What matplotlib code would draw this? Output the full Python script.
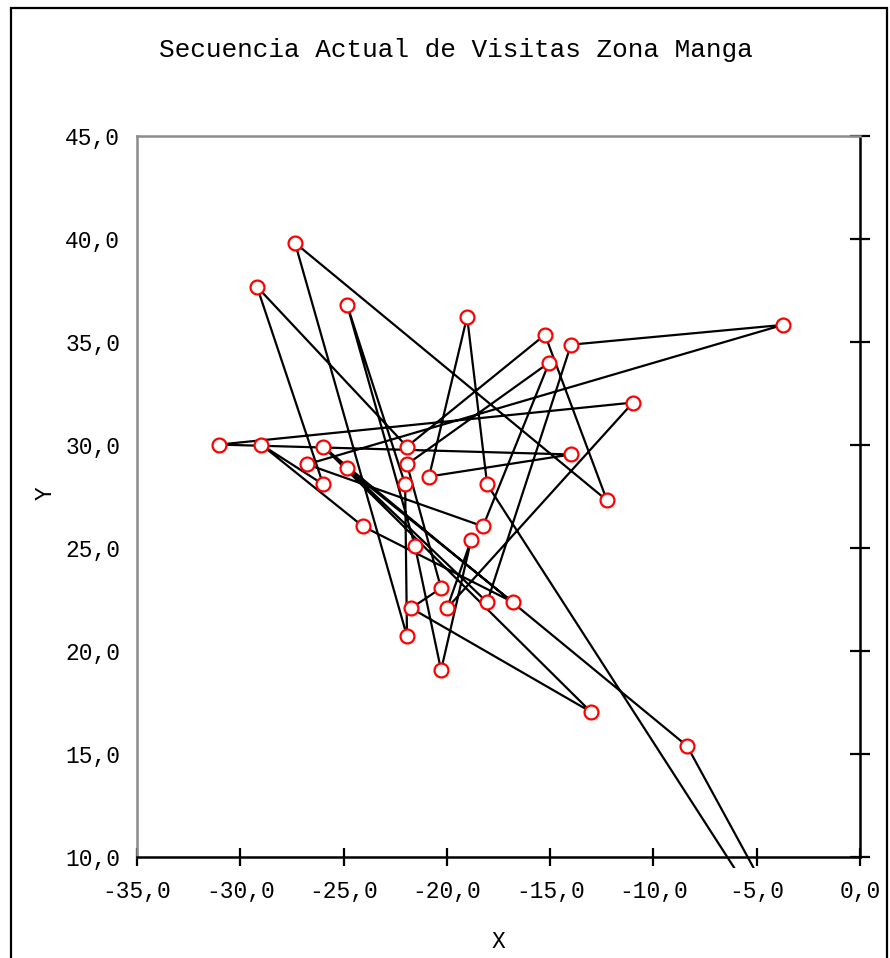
import matplotlib
matplotlib.use("Agg")
import matplotlib.pyplot as plt
from matplotlib.patches import Rectangle
from matplotlib.ticker import FuncFormatter

# Visiting sequence (depot at origin, start and end)
route_x = [0.0, -18.05, -19.02, -20.86, -13.99, -31.03, -10.99, -19.99, -18.83,
           -20.28, -21.54, -24.83, -22.02, -21.93, -27.35, -12.25, -15.25, -21.93,
           -29.19, -25.99, -28.99, -24.06, -16.80, -24.83, -18.05, -13.99, -3.73,
           -26.77, -18.25, -15.05, -21.93, -20.28, -21.73, -13.02, -25.99, -8.37, 0.0]
route_y = [0.0, 28.09, 36.23, 28.47, 29.54, 30.02, 32.06, 22.08, 25.37,
           19.07, 25.08, 36.81, 28.09, 20.72, 39.81, 27.31, 35.35, 29.92,
           37.68, 28.09, 30.02, 26.05, 22.37, 28.86, 22.37, 34.87, 35.83,
           29.06, 26.05, 34.00, 29.06, 23.05, 22.08, 17.04, 29.92, 15.39, 0.0]

x_ticks = [-35, -30, -25, -20, -15, -10, -5, 0]
y_ticks = [10, 15, 20, 25, 30, 35, 40, 45]
title = "Secuencia Actual de Visitas Zona Manga"
x_label = "X"
y_label = "Y"

W, H = 890, 958
fig = plt.figure(figsize=(W / 100, H / 100), dpi=100)
plt.rcParams['font.family'] = ['Liberation Mono', 'DejaVu Sans Mono']

ax = fig.add_axes([137 / W, 1 - 857 / H, (860 - 137) / W, (857 - 136) / H])
ax.set_xlim(-35, 0)
ax.set_ylim(10, 45)

line, = ax.plot(route_x, route_y, color='black', lw=1.6, marker='o',
                markersize=10, markerfacecolor='white', markeredgecolor='red',
                markeredgewidth=1.6, zorder=3)
clip = Rectangle((0, -11 / 721), 1, 1 + 11 / 721, transform=ax.transAxes,
                 facecolor='none', edgecolor='none')
ax.add_patch(clip)
clip.set_visible(False)
line.set_clip_path(clip)

fmt = FuncFormatter(lambda v, p: f"{v:.1f}".replace('.', ','))
ax.set_xticks(x_ticks)
ax.set_yticks(y_ticks)
ax.xaxis.set_major_formatter(fmt)
ax.yaxis.set_major_formatter(fmt)

ax.tick_params(axis='x', direction='inout', length=13, width=1.6, color='black',
               labelsize=16.5, pad=10, top=False)
ax.tick_params(axis='y', direction='inout', length=15, width=1.6, color='black',
               labelsize=16.5, left=False, right=True, labelleft=True,
               labelright=False, pad=4.5)

for s in ['left', 'top']:
    ax.spines[s].set_color('#8c8c8c')
    ax.spines[s].set_linewidth(1.8)
for s in ['right', 'bottom']:
    ax.spines[s].set_color('black')
    ax.spines[s].set_linewidth(1.8)

fig.text(498 / W, 1 - 942 / H, x_label, ha='center', va='center', fontsize=16.5)
fig.text(45 / W, 1 - 493 / H, y_label, ha='center', va='center', fontsize=16.5,
         rotation=90)
fig.text(456 / W, 1 - 50 / H, title, ha='center', va='center', fontsize=18.8)

frame = Rectangle((10.5 / W, -0.1), (887 - 10.5) / W, 1.1 - 8.5 / H,
                  transform=fig.transFigure, fill=False, edgecolor='black',
                  linewidth=1.6, clip_on=False)
fig.patches.append(frame)

fig.savefig("out.png", dpi=100, facecolor='white')
